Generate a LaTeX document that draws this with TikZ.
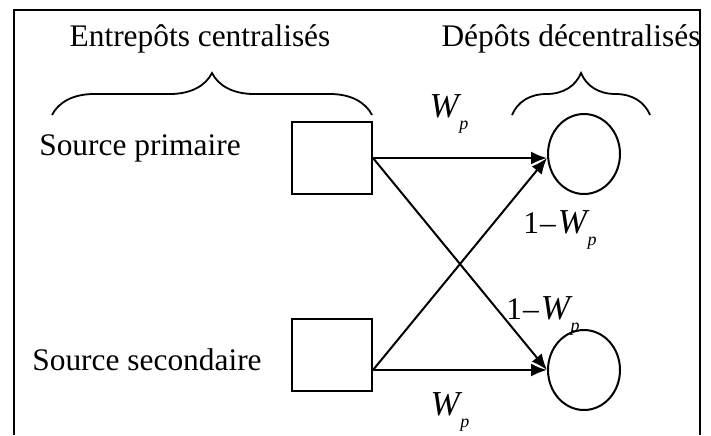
\documentclass[tikz,border=0pt]{standalone}
\usepackage{fontspec}
\setmainfont{Liberation Serif}
\usetikzlibrary{arrows.meta,shapes.geometric,decorations.pathreplacing}
\newcommand{\Wp}{{\fontsize{17.5}{20}\selectfont\textit{W}}\kern-1pt\raisebox{-0.8ex}{\small\textit{p}}}

\begin{document}
\begin{tikzpicture}[x=0.5pt,y=-0.5pt,
    font=\fontsize{15.7}{18}\selectfont,
    box/.style={draw,line width=1pt,minimum width=40pt,minimum height=36pt,inner sep=0pt},
    depot/.style={draw,ellipse,line width=1pt,minimum width=36pt,minimum height=40pt,inner sep=0pt},
    flow/.style={line width=1pt,-{Latex[length=8pt,width=6.5pt]}},
    accolade/.style={line width=0.9pt,decorate,decoration={brace,amplitude=21pt}}]
    \useasboundingbox (0,0) rectangle (711,435);

    % frame
    \draw[line width=1.4pt] (14,435) -- (14,10) -- (700,10) -- (700,435);

    % 1. titles and braces
    \node (tcent) at (200,39) {Entrep\^ots centralis\'es};
    \node (tdec) at (571,39) {D\'ep\^ots d\'ecentralis\'es};
    \draw[accolade] (52,115) -- (372,115);
    \draw[accolade] (512,115) -- (650,115);

    % 2. sources and depots
    \node (prim) at (140,148) {Source primaire};
    \node (sec) at (147,360) {Source secondaire};
    \node[box] (sq1) at (332,158) {};
    \node[box] (sq2) at (332,355) {};
    \node[depot] (c1) at (584,154) {};
    \node[depot] (c2) at (584,370) {};

    \coordinate (out1) at (sq1.east);
    \coordinate (out2) at (sq2.east |- c2.west);
    \coordinate (in1) at (sq1.east -| c1.west);
    \coordinate (in2) at (c2.west);

    % 3. flows
    \draw[flow] (out1) -- (in1);
    \draw[flow] (out1) -- (in2);
    \draw[flow] (out2) -- (in1);
    \draw[flow] (out2) -- (in2);

    % 4. weights
    \node (wtop) at (449,114) {\Wp};
    \node (wup) at (560,230) {1\kern0.5pt–\kern1pt\Wp};
    \node (wlow) at (543,316) {1\kern0.5pt–\kern1pt\Wp};
    \node (wbot) at (450,412) {\Wp};
\end{tikzpicture}
\end{document}
